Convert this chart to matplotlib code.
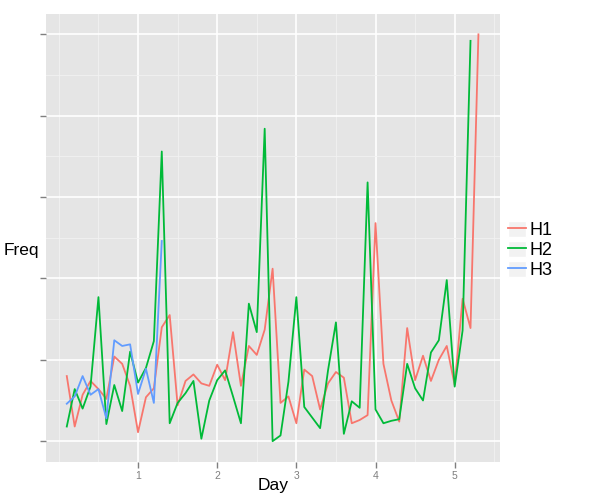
import numpy as np
import matplotlib
matplotlib.use('Agg')
import matplotlib.pyplot as plt
from matplotlib.patches import Rectangle
from matplotlib.lines import Line2D
from matplotlib.ticker import MultipleLocator

plt.rcParams['font.family'] = ['Liberation Sans', 'DejaVu Sans']

## -- data
day_h1 = [round(0.1 * i, 1) for i in range(1, 54)]
freq_h1 = [0.80, 0.18, 0.57, 0.74, 0.64, 0.52, 1.04, 0.95, 0.68, 0.11,
           0.54, 0.65, 1.40, 1.55, 0.44, 0.74, 0.82, 0.71, 0.68, 0.94,
           0.75, 1.34, 0.68, 1.17, 1.06, 1.37, 2.12, 0.47, 0.55, 0.22,
           0.88, 0.80, 0.39, 0.71, 0.85, 0.78, 0.22, 0.26, 0.32, 2.68,
           0.95, 0.50, 0.24, 1.39, 0.75, 1.05, 0.74, 1.00, 1.17, 0.69,
           1.75, 1.39, 5.00]

day_h2 = [round(0.1 * i, 1) for i in range(1, 53)]
freq_h2 = [0.18, 0.64, 0.40, 0.67, 1.77, 0.21, 0.69, 0.37, 1.10, 0.72,
           0.90, 1.23, 3.56, 0.22, 0.47, 0.59, 0.74, 0.03, 0.50, 0.75,
           0.87, 0.55, 0.22, 1.69, 1.34, 3.84, 0.00, 0.07, 0.73, 1.77,
           0.42, 0.29, 0.16, 0.87, 1.46, 0.09, 0.49, 0.41, 3.18, 0.39,
           0.22, 0.25, 0.27, 0.95, 0.65, 0.50, 1.09, 1.24, 1.98, 0.67,
           1.36, 4.92]

day_h3 = [round(0.1 * i, 1) for i in range(1, 14)]
freq_h3 = [0.46, 0.55, 0.80, 0.57, 0.64, 0.28, 1.24, 1.17, 1.19, 0.58,
           0.89, 0.47, 2.46]

labels = ["H1", "H2", "H3"]
colors = ["#F8766D", "#00BA38", "#619CFF"]

fig = plt.figure(figsize=(6, 5), dpi=100)
ax = fig.add_axes([0.077, 0.077, 0.756, 0.895])
ax.set_facecolor("#E5E5E5")

series = [(day_h1, freq_h1), (day_h2, freq_h2), (day_h3, freq_h3)]
for (x, y), c, lab in zip(series, colors, labels):
    ax.plot(x, y, color=c, linewidth=1.3, label=lab, zorder=3)

ax.set_xlim(-0.16, 5.57)
ax.set_ylim(-0.25, 5.25)
ax.xaxis.set_minor_locator(MultipleLocator(0.5))
ax.yaxis.set_minor_locator(MultipleLocator(0.5))
ax.set_xticks([1, 2, 3, 4, 5])
ax.set_yticks([0, 1, 2, 3, 4, 5])
ax.set_yticklabels([""] * 6)

ax.grid(which="major", color="white", linewidth=1.2, zorder=0)
ax.grid(which="minor", color="#F2F2F2", linewidth=0.6, zorder=0)
ax.set_axisbelow(True)
for s in ax.spines.values():
    s.set_visible(False)
ax.tick_params(which="major", direction="out", length=4, width=1,
               color="#7F7F7F", labelcolor="#7F7F7F", labelsize=7.5, pad=3)
ax.tick_params(which="minor", length=0)

ax.set_xlabel("Day", fontsize=12.5, labelpad=-2)
## ggplot centres the y title on the whole figure height
fig.text(0.036, 0.5, "Freq", fontsize=12.5, ha="center", va="center")

## legend with grey key boxes
handles = []
for c in colors:
    box = Rectangle((0, 0), 1, 1, facecolor="#F2F2F2", edgecolor="white")
    ln = Line2D([], [], color=c, linewidth=1.3)
    handles.append((box, ln))
fig.legend(handles, labels, loc="center left", bbox_to_anchor=(0.835, 0.5),
           frameon=False, fontsize=13, handlelength=1.0, handleheight=1.0,
           handletextpad=0.2, labelspacing=0.1, borderaxespad=0.0)

plt.savefig("out.png", dpi=100)
